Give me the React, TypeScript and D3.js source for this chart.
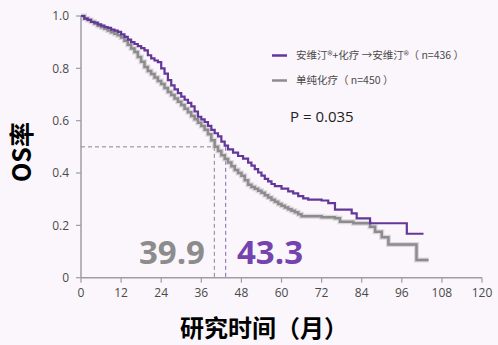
import React from "react";
import * as d3 from "d3";

const xTicks = [0, 12, 24, 36, 48, 60, 72, 84, 96, 108, 120];
const yTicks = [0, 0.2, 0.4, 0.6, 0.8, 1.0];
const yTickLabels = ["0", "0.2", "0.4", "0.6", "0.8", "1.0"];

const purpleTime = [0, 1, 2, 3, 4, 5, 6, 7, 8, 9, 10, 11, 12, 13, 14, 15, 16, 17, 18, 19, 20, 21, 22, 23, 24, 25, 26, 27, 28, 29, 30, 31, 32, 33, 34, 35, 36, 37, 38, 39, 40, 41, 42, 43, 44, 45.5, 47, 48.5, 50, 51, 52, 53, 54, 55, 56, 57, 58, 60, 62, 63.5, 65, 66.5, 68, 72, 74, 76, 81, 82.5, 86.5, 97.5, 102.5];
const purpleOS = [1.0, 0.99, 0.985, 0.977, 0.975, 0.968, 0.963, 0.958, 0.955, 0.948, 0.944, 0.939, 0.93, 0.92, 0.91, 0.9, 0.893, 0.885, 0.877, 0.869, 0.85, 0.838, 0.83, 0.824, 0.8, 0.78, 0.755, 0.735, 0.72, 0.705, 0.692, 0.68, 0.668, 0.655, 0.635, 0.615, 0.605, 0.595, 0.58, 0.565, 0.552, 0.54, 0.52, 0.505, 0.49, 0.478, 0.465, 0.455, 0.44, 0.428, 0.415, 0.402, 0.39, 0.378, 0.368, 0.358, 0.35, 0.34, 0.33, 0.322, 0.312, 0.303, 0.298, 0.295, 0.285, 0.26, 0.246, 0.227, 0.208, 0.168, 0.168];

const grayTime = [0, 1, 2, 3, 4, 5, 6, 7, 8, 9, 10, 11, 12, 13, 14, 15, 16, 17, 18, 19, 20, 21, 22, 23, 24, 25, 26, 27, 28, 29, 30, 31, 32, 33, 34, 35, 36, 37, 38, 39, 40, 41, 42, 43, 44, 45, 46, 47, 48, 49, 50, 51, 52, 53, 54, 55, 56, 57, 58, 59, 60, 61, 62, 63, 64, 65, 66, 72, 76, 77.5, 81.5, 86.5, 88, 90, 92, 100.4, 104];
const grayOS = [1.0, 0.99, 0.985, 0.978, 0.97, 0.963, 0.957, 0.951, 0.945, 0.938, 0.932, 0.926, 0.918, 0.905, 0.89, 0.876, 0.862, 0.843, 0.825, 0.805, 0.79, 0.778, 0.765, 0.752, 0.74, 0.725, 0.71, 0.698, 0.685, 0.672, 0.66, 0.646, 0.632, 0.618, 0.605, 0.592, 0.58, 0.565, 0.548, 0.525, 0.5, 0.484, 0.468, 0.454, 0.44, 0.426, 0.412, 0.4, 0.39, 0.372, 0.355, 0.347, 0.34, 0.332, 0.325, 0.315, 0.306, 0.298, 0.29, 0.282, 0.275, 0.268, 0.262, 0.256, 0.25, 0.242, 0.235, 0.231, 0.227, 0.214, 0.208, 0.195, 0.176, 0.155, 0.127, 0.068, 0.068];

const medianGray = 39.9;
const medianPurple = 43.3;
const legendLabels = ["安维汀®+化疗 →安维汀®（ n=436 ）", "单纯化疗（ n=450 ）"];
const pValue = "P = 0.035";
const yTitle = "OS率";
const xTitle = "研究时间（月）";

const PURPLE = "#63379a";
const PURPLE_TEXT = "#7443ae";
const GRAY = "#8c8c8c";

export default function App() {
  const W = 498, H = 345;
  const x = d3.scaleLinear().domain([0, 120]).range([81, 482]);
  const y = d3.scaleLinear().domain([0, 1]).range([277.7, 16]);
  const line = d3.line<[number, number]>().x(d => x(d[0])).y(d => y(d[1])).curve(d3.curveStepAfter);
  const pData = purpleTime.map((t, i) => [t, purpleOS[i]] as [number, number]);
  const gData = grayTime.map((t, i) => [t, grayOS[i]] as [number, number]);
  const font = "'Open Sans', 'Noto Sans CJK SC', sans-serif";
  const cjk = "'Noto Sans CJK SC', 'Open Sans', sans-serif";
  return (
    <svg width={W} height={H} style={{ position: "absolute", left: 0, top: 0, background: "#fbf6fb" }}>
      <rect x={0} y={0} width={W} height={H} fill="#fbf6fb" />
      <line x1={x(0)} x2={x(0)} y1={y(0)} y2={y(1)} stroke="#a09ca6" strokeWidth={1.5} />
      <line x1={x(0)} x2={x(120)} y1={y(0)} y2={y(0)} stroke="#a09ca6" strokeWidth={1.5} />
      {yTicks.map((v, i) => (
        <g key={"y" + i}>
          <line x1={x(0) - 5} x2={x(0)} y1={y(v)} y2={y(v)} stroke="#a09ca6" strokeWidth={1.2} />
          <text x={x(0) - 12} y={y(v)} dy="0.35em" textAnchor="end" fontSize={12} fill="#4a4a4a" fontFamily={font}>{yTickLabels[i]}</text>
        </g>
      ))}
      {xTicks.map((t, i) => (
        <g key={"x" + i}>
          <line x1={x(t)} x2={x(t)} y1={y(0)} y2={y(0) + 5} stroke="#a09ca6" strokeWidth={1.2} />
          <text x={x(t)} y={y(0) + 19} textAnchor="middle" fontSize={12} fill="#4a4a4a" fontFamily={font}>{t}</text>
        </g>
      ))}
      <line x1={x(0)} x2={x(medianGray)} y1={y(0.5)} y2={y(0.5)} stroke="#8a8494" strokeWidth={1} strokeDasharray="4,3" />
      <line x1={x(medianGray)} x2={x(medianGray)} y1={y(0.5)} y2={y(0)} stroke="#8a8494" strokeWidth={1} strokeDasharray="4,3" />
      <line x1={x(medianPurple)} x2={x(medianPurple)} y1={y(0.5)} y2={y(0)} stroke="#7c6aa8" strokeWidth={1} strokeDasharray="4,3" />
      <path d={line(gData) || ""} fill="none" stroke="#c4c2c6" strokeWidth={5} opacity={0.6} />
      <path d={line(gData) || ""} fill="none" stroke={GRAY} strokeWidth={2.5} />
      <path d={line(pData) || ""} fill="none" stroke={PURPLE} strokeWidth={2.2} />
      <text x={205} y={264} textAnchor="end" fontSize={33} fontWeight="bold" fill={GRAY} fontFamily={font}>{String(medianGray)}</text>
      <text x={237} y={264} textAnchor="start" fontSize={33} fontWeight="bold" fill={PURPLE_TEXT} fontFamily={font}>{String(medianPurple)}</text>
      <line x1={272} x2={287} y1={55.5} y2={55.5} stroke={PURPLE} strokeWidth={2.5} />
      <text x={296} y={55.5} dy="0.35em" fontSize={10.5} fill="#4a4a4a" fontFamily={cjk}>{legendLabels[0]}</text>
      <line x1={272} x2={287} y1={80.5} y2={80.5} stroke={GRAY} strokeWidth={2.5} />
      <text x={296} y={80.5} dy="0.35em" fontSize={10.5} fill="#4a4a4a" fontFamily={cjk}>{legendLabels[1]}</text>
      <text x={290} y={122} fontSize={15} fill="#222" fontFamily={font}>{pValue}</text>
      <text transform="translate(31,152) rotate(-90)" textAnchor="middle" fontSize={25} fontWeight="bold" fill="#000" fontFamily={cjk}>{yTitle}</text>
      <text x={264} y={337} textAnchor="middle" fontSize={24} fontWeight="bold" fill="#000" fontFamily={cjk}>{xTitle}</text>
    </svg>
  );
}
